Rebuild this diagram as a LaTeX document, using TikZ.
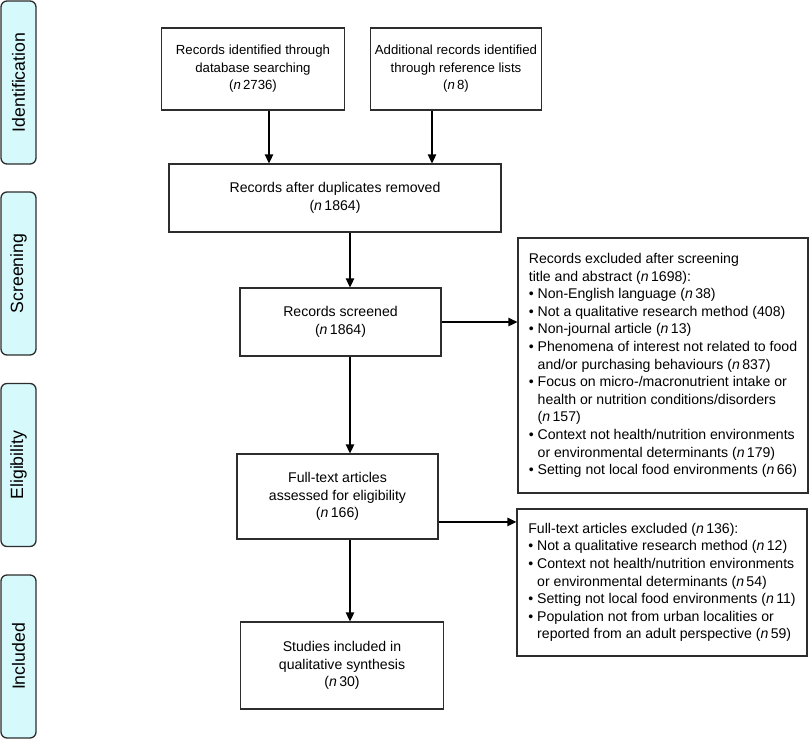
\documentclass[tikz,border=0pt]{standalone}
\usepackage{fontspec}
\setmainfont{Liberation Sans}
\usetikzlibrary{arrows.meta,calc}
\definecolor{bandfill}{RGB}{214,249,252}
\definecolor{edgecol}{RGB}{45,45,45}
\begin{document}
\begin{tikzpicture}[x=1pt,y=-1pt,
  box/.style={draw=edgecol, line width=1.3pt, rectangle, inner sep=0pt, align=center,
    font=\fontsize{14.1}{17.8}\selectfont, text=black},
  topbox/.style={box, font=\fontsize{13.2}{17.5}\selectfont},
  listbox/.style={draw=edgecol, line width=1.3pt, rectangle, inner sep=0pt, align=left,
    font=\fontsize{14.1}{17.6}\selectfont, text=black, minimum width=290pt},
  band/.style={draw=edgecol, fill=bandfill, line width=1.3pt, rounded corners=6pt,
    rotate=90, minimum width=163pt, minimum height=35pt, inner sep=0pt,
    font=\fontsize{17.7}{20}\selectfont, text=black},
  arr/.style={draw=black, line width=1.3pt, -{Triangle[length=9pt,width=8.5pt]}}]
\useasboundingbox (0,0) rectangle (812,740);
% phase bands
\node[band] (id) at (18.5,82.5) {Identification};
\node[band] (sc) at (18.5,273.5) {Screening};
\node[band] (el) at (18.5,465) {Eligibility};
\node[band] (in) at (18.5,656.5) {Included};
% main boxes
\node[topbox, minimum width=183pt, minimum height=82pt] (b1) at (253,69)
  {Records identified through\\database searching\\(\textit{n}\,2736)};
\node[topbox, minimum width=171pt, minimum height=82pt] (b2) at (456,69)
  {Additional records identified\\through reference lists\\(\textit{n}\,8)};
\node[box, minimum width=332pt, minimum height=68pt] (b3) at (335,198)
  {Records after duplicates removed\\(\textit{n}\,1864)};
\node[box, minimum width=201pt, minimum height=68pt] (b4) at (340.5,322)
  {Records screened\\(\textit{n}\,1864)};
\node[box, minimum width=201pt, minimum height=85pt] (b5) at (337.5,496.5)
  {Full-text articles\\assessed for eligibility\\(\textit{n}\,166)};
\node[box, minimum width=203pt, minimum height=87pt] (b6) at (342,665.5)
  {Studies included in\\qualitative synthesis\\(\textit{n}\,30)};
% exclusion boxes
\node[listbox, minimum height=255pt] (r1) at (663,365.5)
  {Records excluded after screening\\
   title and abstract (\textit{n}\,1698):\\
   • Non-English language (\textit{n}\,38)\\
   • Not a qualitative research method (408)\\
   • Non-journal article (\textit{n}\,13)\\
   • Phenomena of interest not related to food\\
   \phantom{•}\ and/or purchasing behaviours (\textit{n}\,837)\\
   • Focus on micro-/macronutrient intake or\\
   \phantom{•}\ health or nutrition conditions/disorders\\
   \phantom{•}\ (\textit{n}\,157)\\
   • Context not health/nutrition environments\\
   \phantom{•}\ or environmental determinants (\textit{n}\,179)\\
   • Setting not local food environments (\textit{n}\,66)};
\node[listbox, minimum height=147pt] (r2) at (662,582.5)
  {Full-text articles excluded (\textit{n}\,136):\\
   • Not a qualitative research method (\textit{n}\,12)\\
   • Context not health/nutrition environments\\
   \phantom{•}\ or environmental determinants (\textit{n}\,54)\\
   • Setting not local food environments (\textit{n}\,11)\\
   • Population not from urban localities or\\
   \phantom{•}\ reported from an adult perspective (\textit{n}\,59)};
% connectors
\coordinate (xa) at (269,0);
\coordinate (xb) at (432,0);
\coordinate (xc) at (350,0);
\draw[arr] (xa |- b1.south) -- (xa |- b3.north);
\draw[arr] (xb |- b2.south) -- (xb |- b3.north);
\draw[arr] (xc |- b3.south) -- (xc |- b4.north);
\draw[arr] (xc |- b4.south) -- (xc |- b5.north);
\draw[arr] (xc |- b5.south) -- (xc |- b6.north);
\draw[arr] (b4.east) -- (b4.east -| r1.west);
\coordinate (c5) at ($(b5.south east)!0.205!(b5.north east)$);
\draw[arr] (c5) -- (c5 -| r2.west);
\end{tikzpicture}
\end{document}
